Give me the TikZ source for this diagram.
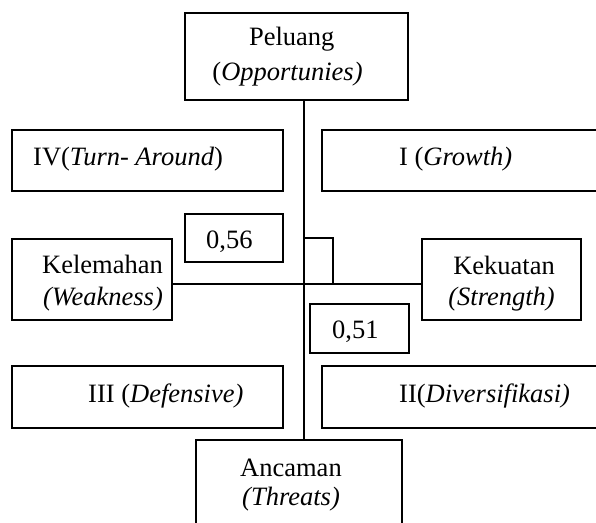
\documentclass[tikz,border=0pt]{standalone}
\usepackage{fontspec}
\setmainfont{Liberation Serif}
\begin{document}
\begin{tikzpicture}[x=1pt,y=-1pt,
  box/.style={draw, line width=1.4pt, rectangle, inner sep=0pt},
  lbl/.style={inner sep=0pt, font=\fontsize{26.5}{32}\selectfont},
  conn/.style={line width=1.4pt}]
\useasboundingbox (0,0) rectangle (596,522);
\clip (0,0) rectangle (596,522);
% boxes: centre = midpoint of corners
\node[box, minimum width=223pt, minimum height=87pt] (pel) at (296.5,56.5) {};
\node[box, minimum width=271pt, minimum height=61pt] (q4) at (147.5,160.5) {};
\node[box, minimum width=278pt, minimum height=61pt] (q1) at (461,160.5) {};
\node[box, minimum width=98pt, minimum height=48pt] (v56) at (234,238) {};
\node[box, minimum width=160pt, minimum height=81pt] (kel) at (92,279.5) {};
\node[box, minimum width=159pt, minimum height=81pt] (kek) at (501.5,279.5) {};
\node[box, minimum width=99pt, minimum height=49pt] (v51) at (359.5,328.5) {};
\node[box, minimum width=271pt, minimum height=62pt] (q3) at (147.5,397) {};
\node[box, minimum width=278pt, minimum height=62pt] (q2) at (461,397) {};
\node[box, minimum width=206pt, minimum height=90pt] (anc) at (299,485) {};
% connectors
\coordinate (vx) at (304,0);
\coordinate (hy) at (0,284);
\coordinate (s1) at (304,238);
\coordinate (s2) at (333,238);
\coordinate (s3) at (333,284);
\draw[conn] (pel.south -| vx) -- (anc.north -| vx);
\draw[conn] (kel.east |- hy) -- (kek.west |- hy);
\draw[conn] (s1) -- (s2) -- (s3);
% labels
\node[lbl, anchor=base] (tpel1) at (291.7,45) {Peluang};
\node[lbl, anchor=base] (tpel2) at (287.5,80) {(\textit{Opportunies)}};
\node[lbl, anchor=base west] (tq4) at (33,165) {IV(\textit{Turn- Around})};
\node[lbl, anchor=base west] (tq1) at (399,165) {I (\textit{Growth)}};
\node[lbl, anchor=base west] (t56) at (206,248) {0,56};
\node[lbl, anchor=base east] (tkel1) at (163,273) {Kelemahan};
\node[lbl, anchor=base east] (tkel2) at (163,305) {\textit{(Weakness)}};
\node[lbl, anchor=base east] (tkek1) at (555,274) {Kekuatan};
\node[lbl, anchor=base east] (tkek2) at (555,305) {\textit{(Strength)}};
\node[lbl, anchor=base west] (t51) at (332,338) {0,51};
\node[lbl, anchor=base west] (tq3) at (88,402) {III (\textit{Defensive)}};
\node[lbl, anchor=base west] (tq2) at (399,402) {II(\textit{Diversifikasi)}};
\node[lbl, anchor=base west] (tanc1) at (240,476) {Ancaman};
\node[lbl, anchor=base west] (tanc2) at (242,505) {\textit{(Threats)}};
\end{tikzpicture}
\end{document}
